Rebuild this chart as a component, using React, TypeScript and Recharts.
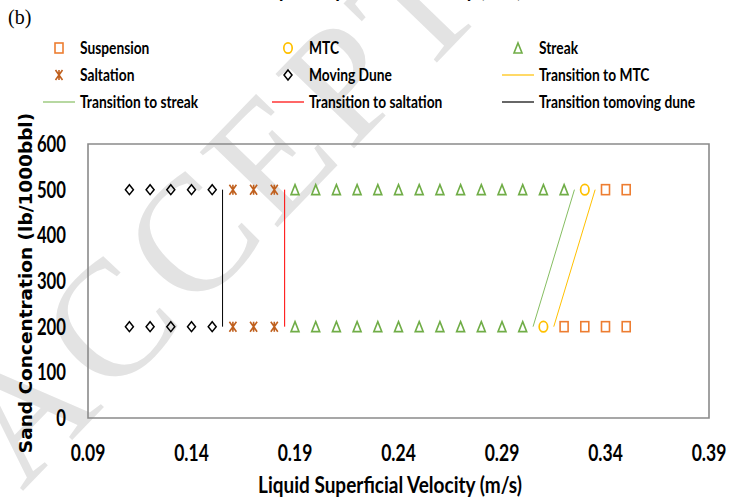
import { ScatterChart, Scatter, XAxis, YAxis, ReferenceLine, ReferenceArea } from 'recharts'

const W = 731
const H = 498

// liquid superficial velocity (m/s) of each run, split by sand concentration
const duneV200 = [0.11, 0.12, 0.13, 0.14, 0.15]
const duneV500 = [0.11, 0.12, 0.13, 0.14, 0.15]
const saltV200 = [0.16, 0.17, 0.18]
const saltV500 = [0.16, 0.17, 0.18]
const streakV200 = [0.19, 0.2, 0.21, 0.22, 0.23, 0.24, 0.25, 0.26, 0.27, 0.28, 0.29, 0.3]
const streakV500 = [0.19, 0.2, 0.21, 0.22, 0.23, 0.24, 0.25, 0.26, 0.27, 0.28, 0.29, 0.3, 0.31, 0.32]
const mtcV200 = [0.31]
const mtcV500 = [0.33]
const suspV200 = [0.32, 0.33, 0.34, 0.35]
const suspV500 = [0.34, 0.35]

// transition boundaries: velocity at 200 and at 500 lb/1000bbl
const concLevels = [200, 500]
const toDune = [0.155, 0.155]
const toSalt = [0.185, 0.185]
const toStreak = [0.305, 0.325]
const toMtc = [0.315, 0.335]

const xTicks = [0.09, 0.14, 0.19, 0.24, 0.29, 0.34, 0.39]
const yTicks = [0, 100, 200, 300, 400, 500, 600]

const C = {
  susp: '#ED7D31',
  mtc: '#FFC000',
  streak: '#70AD47',
  salt: '#C0601E',
  dune: '#000000',
  streakLine: '#86BE62',
  saltLine: '#FF0000',
  frame: '#8a8a8a',
}

const pts = (v200: number[], v500: number[]) => [
  ...v200.map((v) => ({ v, c: 200 })),
  ...v500.map((v) => ({ v, c: 500 })),
]
const seg = (vs: number[]) => vs.map((v, i) => ({ x: v, y: concLevels[i] }))

type P = { cx?: number; cy?: number }

const Square = ({ cx = 0, cy = 0 }: P) => (
  <rect x={cx - 4} y={cy - 5} width={8} height={10} fill="none" stroke={C.susp} strokeWidth={1.6} />
)
const Ring = ({ cx = 0, cy = 0 }: P) => (
  <ellipse cx={cx} cy={cy} rx={4.2} ry={5.2} fill="none" stroke={C.mtc} strokeWidth={1.7} />
)
const Tri = ({ cx = 0, cy = 0 }: P) => (
  <path d={`M${cx},${cy - 5}L${cx + 4},${cy + 5}L${cx - 4},${cy + 5}Z`} fill="none" stroke={C.streak} strokeWidth={1.6} />
)
const Diamond = ({ cx = 0, cy = 0 }: P) => (
  <path d={`M${cx},${cy - 5}L${cx + 4},${cy}L${cx},${cy + 5}L${cx - 4},${cy}Z`} fill="none" stroke={C.dune} strokeWidth={1.5} />
)
const Star = ({ cx = 0, cy = 0 }: P) => (
  <path
    d={`M${cx - 3.5},${cy - 5}L${cx + 3.5},${cy + 5}M${cx + 3.5},${cy - 5}L${cx - 3.5},${cy + 5}M${cx},${cy - 5}L${cx},${cy + 5}`}
    fill="none"
    stroke={C.salt}
    strokeWidth={1.6}
  />
)

type TxtProps = {
  x: number
  y: number
  size: number
  sx?: number
  sy?: number
  rot?: number
  anchor?: 'start' | 'middle' | 'end'
  weight?: number
  family?: string
  fill?: string
  spacing?: number
  children: React.ReactNode
}
// text with an optional stretch, to get the tall narrow look of the axis labels
function Txt({ x, y, size, sx = 1, sy = 1, rot = 0, anchor = 'start', weight = 700, family = 'Lato', fill = '#000', spacing = 0, children }: TxtProps) {
  return (
    <text
      transform={`translate(${x} ${y}) rotate(${rot}) scale(${sx} ${sy})`}
      textAnchor={anchor}
      fontFamily={family}
      fontWeight={weight}
      fontSize={size}
      fill={fill}
      letterSpacing={spacing}
    >
      {children}
    </text>
  )
}

const XTick = (p: any) => (
  <Txt x={p.x} y={p.y + 41} size={19} sx={0.92} sy={1.15} anchor="middle">
    {Number(p.payload.value).toFixed(2)}
  </Txt>
)
const YTick = (p: any) => (
  <Txt x={p.x - 20} y={p.y + 8} size={19} sx={0.88} sy={1.15} anchor="end">
    {p.payload.value}
  </Txt>
)

type LegendItem = { label: string; kind: 'mark' | 'line'; x: number; y: number; color: string; Mark?: (p: P) => JSX.Element }
const legendItems: LegendItem[] = [
  { label: 'Suspension', kind: 'mark', x: 59, y: 48, color: C.susp, Mark: Square },
  { label: 'MTC', kind: 'mark', x: 288, y: 48, color: C.mtc, Mark: Ring },
  { label: 'Streak', kind: 'mark', x: 518, y: 48, color: C.streak, Mark: Tri },
  { label: 'Saltation', kind: 'mark', x: 59, y: 75, color: C.salt, Mark: Star },
  { label: 'Moving Dune', kind: 'mark', x: 288, y: 75, color: C.dune, Mark: Diamond },
  { label: 'Transition to MTC', kind: 'line', x: 518, y: 75, color: C.mtc },
  { label: 'Transition to streak', kind: 'line', x: 59, y: 102, color: C.streakLine },
  { label: 'Transition to saltation', kind: 'line', x: 288, y: 102, color: C.saltLine },
  { label: 'Transition tomoving dune', kind: 'line', x: 518, y: 102, color: '#000' },
]

export default function App() {
  return (
    <div style={{ position: 'absolute', left: 0, top: 0, width: W, height: H, background: '#fff', overflow: 'hidden' }}>
      {/* watermark */}
      <svg width={W} height={H} style={{ position: 'absolute', left: 0, top: 0 }}>
        <Txt x={22} y={492} size={165} rot={-46} weight={400} family="Liberation Serif" fill="#e3e3e3" spacing={8}>
          ACCEPTED MANUSCRIPT
        </Txt>
      </svg>

      <div style={{ position: 'absolute', left: 0, top: 0 }}>
        <ScatterChart width={W} height={H} margin={{ top: 144, right: 22, bottom: 50, left: 28 }}>
          <XAxis
            type="number"
            dataKey="v"
            domain={[0.09, 0.39]}
            ticks={xTicks}
            interval={0}
            axisLine={false}
            tickLine={false}
            tickSize={0}
            height={30}
            tick={XTick}
          />
          <YAxis
            type="number"
            dataKey="c"
            domain={[0, 600]}
            ticks={yTicks}
            interval={0}
            axisLine={false}
            tickLine={false}
            tickSize={0}
            width={60}
            tick={YTick}
          />
          <ReferenceArea x1={0.09} x2={0.39} y1={0} y2={600} fill="none" stroke={C.frame} strokeWidth={1.6} />
          <ReferenceLine segment={seg(toDune)} stroke="#000" strokeWidth={1} />
          <ReferenceLine segment={seg(toSalt)} stroke={C.saltLine} strokeWidth={1} />
          <ReferenceLine segment={seg(toStreak)} stroke={C.streakLine} strokeWidth={1} />
          <ReferenceLine segment={seg(toMtc)} stroke={C.mtc} strokeWidth={1} />
          <Scatter name="Moving Dune" data={pts(duneV200, duneV500)} shape={Diamond} isAnimationActive={false} />
          <Scatter name="Saltation" data={pts(saltV200, saltV500)} shape={Star} isAnimationActive={false} />
          <Scatter name="Streak" data={pts(streakV200, streakV500)} shape={Tri} isAnimationActive={false} />
          <Scatter name="MTC" data={pts(mtcV200, mtcV500)} shape={Ring} isAnimationActive={false} />
          <Scatter name="Suspension" data={pts(suspV200, suspV500)} shape={Square} isAnimationActive={false} />
        </ScatterChart>
      </div>

      {/* titles and legend */}
      <svg width={W} height={H} style={{ position: 'absolute', left: 0, top: 0, pointerEvents: 'none' }}>
        <Txt x={390} y={-3} size={19} sx={1} sy={1.15} anchor="middle">Liquid Superficial Velocity (m/s)</Txt>
        <Txt x={8} y={24} size={20} sy={1.05} weight={400} family="Liberation Serif">(b)</Txt>
        {legendItems.map((it) => (
          <g key={it.label}>
            {it.kind === 'mark' && it.Mark ? (
              <it.Mark cx={it.x} cy={it.y} />
            ) : (
              <line x1={it.x - 16} x2={it.x + 16} y1={it.y} y2={it.y} stroke={it.color} strokeWidth={1.2} />
            )}
            <Txt x={it.x + 21} y={it.y + 6} size={14.5} sx={0.95} sy={1.15}>{it.label}</Txt>
          </g>
        ))}
        <Txt x={32} y={283} size={18.5} rot={-90} anchor="middle" family="DejaVu Sans">
          Sand Concentration (lb/1000bbl)
        </Txt>
        <Txt x={390} y={493} size={19} sx={1} sy={1.15} anchor="middle">Liquid Superficial Velocity (m/s)</Txt>
      </svg>
    </div>
  )
}
